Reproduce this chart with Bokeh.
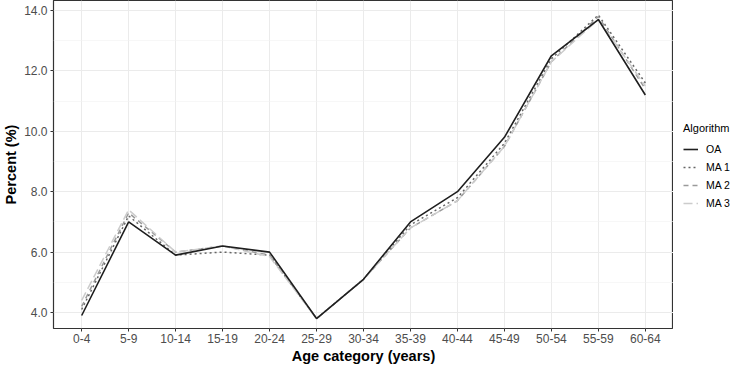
from bokeh.plotting import figure
from bokeh.layouts import row
from bokeh.models import Range1d, FixedTicker, SingleIntervalTicker, Legend, LegendItem, PrintfTickFormatter
from bokeh.embed import file_html
from bokeh.resources import INLINE

categories = ["0-4", "5-9", "10-14", "15-19", "20-24", "25-29", "30-34",
              "35-39", "40-44", "45-49", "50-54", "55-59", "60-64"]
oa  = [3.9, 7.0, 5.9, 6.2, 6.0, 3.8, 5.1, 7.0, 8.0, 9.8, 12.5, 13.7, 11.2]
ma1 = [4.1, 7.2, 5.9, 6.0, 5.9, 3.8, 5.1, 6.9, 7.8, 9.6, 12.4, 13.85, 11.6]
ma2 = [4.2, 7.3, 6.0, 6.2, 5.9, 3.8, 5.1, 6.8, 7.7, 9.5, 12.3, 13.8, 11.4]
ma3 = [4.4, 7.4, 6.0, 6.2, 5.85, 3.8, 5.1, 6.8, 7.7, 9.5, 12.3, 13.7, 11.5]
series_names = ["OA", "MA 1", "MA 2", "MA 3"]

xs = list(range(len(categories)))
series = [oa, ma1, ma2, ma3]

FONT = "Liberation Sans"

p = figure(frame_width=620, frame_height=328, output_backend="svg", toolbar_location=None,
           x_range=Range1d(-0.6, len(categories) - 0.4),
           y_range=Range1d(3.47, 14.33),
           min_border_top=0, min_border_left=0, min_border_right=0, min_border_bottom=0)

p.background_fill_color = "white"
p.border_fill_color = "white"
p.outline_line_color = "#333333"
p.outline_line_width = 1.2

# axes
p.xaxis.ticker = FixedTicker(ticks=xs)
p.xaxis.major_label_overrides = {i: c for i, c in enumerate(categories)}
p.yaxis.ticker = SingleIntervalTicker(interval=2, num_minor_ticks=2)
p.yaxis.formatter = PrintfTickFormatter(format="%.1f")
for ax in (p.xaxis[0], p.yaxis[0]):
    ax.axis_line_color = None
    ax.major_tick_line_color = "#333333"
    ax.major_tick_in = 0
    ax.major_tick_out = 3
    ax.minor_tick_line_color = None
    ax.major_label_text_font = FONT
    ax.major_label_text_font_size = "12px"
    ax.major_label_text_color = "#4D4D4D"
    ax.major_label_standoff = 2
    ax.axis_label_text_font = FONT
    ax.axis_label_text_font_size = "14.5px"
    ax.axis_label_text_font_style = "bold"
    ax.axis_label_text_color = "black"
    ax.axis_label_standoff = 2
p.xaxis.axis_label = "Age category (years)"
p.yaxis.axis_label = "Percent (%)"

# grids
p.xgrid.grid_line_color = "#EBEBEB"
p.xgrid.grid_line_width = 1
p.ygrid.grid_line_color = "#EBEBEB"
p.ygrid.grid_line_width = 1
p.ygrid.minor_grid_line_color = "#F2F2F2"
p.ygrid.minor_grid_line_width = 0.6
p.xgrid.ticker = FixedTicker(ticks=xs)

styles = [
    ("#1f1f1f", "solid", 1.6),
    ("#666666", "2 3", 1.5),
    ("#9a9a9a", "5 4", 1.5),
    ("#cccccc", "9 4", 1.5),
]
for vals, (col, dash, w) in zip(series[1:], styles[1:]):
    p.line(xs, vals, line_color=col, line_dash=dash, line_width=w)
p.line(xs, oa, line_color=styles[0][0], line_dash=styles[0][1], line_width=styles[0][2])

# legend panel: same series, with ranges that keep the lines out of view,
# so only Bokeh's Legend key is visible
lg = figure(width=62, height=364, output_backend="svg", toolbar_location=None,
            x_range=Range1d(-100, -99), y_range=Range1d(-100, -99),
            x_axis_location=None, y_axis_location=None,
            min_border=0)
lg.outline_line_color = None
lg.grid.visible = False
lg.background_fill_color = "white"
key_renderers = [lg.line(xs, vals, line_color=c, line_dash=d, line_width=w)
                 for vals, (c, d, w) in zip(series, styles)]

legend = Legend(items=[LegendItem(label=n, renderers=[r]) for n, r in zip(series_names, key_renderers)],
                title="Algorithm", title_text_font=FONT, title_text_font_size="11px",
                title_text_font_style="normal", title_text_color="black", title_standoff=8,
                label_text_font=FONT, label_text_font_size="10.5px", label_text_color="black",
                glyph_width=15, glyph_height=14, label_standoff=8, spacing=4,
                label_height=14, padding=0, margin=0,
                border_line_color=None, background_fill_color=None,
                location=(10, 116))
lg.add_layout(legend, "center")

layout = row(p, lg)
open("out.html", "w").write(file_html(layout, INLINE))
